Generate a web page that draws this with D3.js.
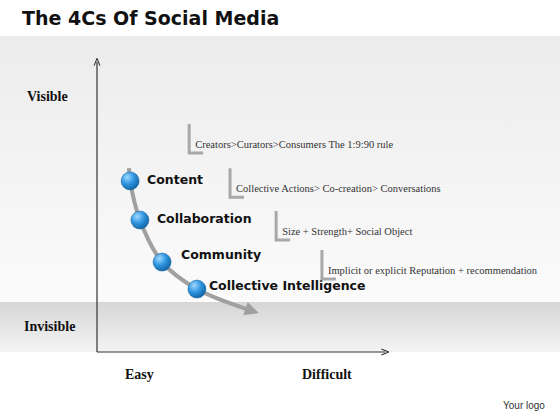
<!DOCTYPE html>
<html><head><meta charset="utf-8">
<script src="https://d3js.org/d3.v7.min.js"></script>
<style>body{margin:0}svg{display:block}</style>
</head><body>
<svg id="chart" width="560" height="420"></svg>
<script>
var stages = ["Content", "Collaboration", "Community", "Collective Intelligence"];
var stageX = [11.5, 14.9, 22.6, 34.7];
var stageY = [59, 45.5, 31, 21.7];
var notes = ["Creators>Curators>Consumers The 1:9:90 rule",
  "Collective Actions> Co-creation> Conversations",
  "Size + Strength+ Social Object",
  "Implicit or explicit Reputation + recommendation"];
var noteX = [32, 46.2, 62.2, 78.1];
var noteY = [78.6, 63.4, 48.6, 35.2];
var yLabels = ["Visible", "Invisible"];
var xLabels = ["Easy", "Difficult"];

var svg = d3.select("#chart");
var x = d3.scaleLinear().domain([0, 100]).range([97, 385]);
var y = d3.scaleLinear().domain([0, 100]).range([352, 62]);

var defs = svg.append("defs");
var g1 = defs.append("linearGradient").attr("id", "bg").attr("x1", 0).attr("y1", 0).attr("x2", 0).attr("y2", 1);
g1.append("stop").attr("offset", 0).attr("stop-color", "#ececec");
g1.append("stop").attr("offset", 1).attr("stop-color", "#fbfbfb");
var g2 = defs.append("linearGradient").attr("id", "band").attr("x1", 0).attr("y1", 0).attr("x2", 0).attr("y2", 1);
g2.append("stop").attr("offset", 0).attr("stop-color", "#d6d6d6");
g2.append("stop").attr("offset", 1).attr("stop-color", "#f4f4f4");
var rg = defs.append("radialGradient").attr("id", "ball").attr("cx", 0.35).attr("cy", 0.3).attr("r", 0.75);
rg.append("stop").attr("offset", 0).attr("stop-color", "#9fd8ff");
rg.append("stop").attr("offset", 0.5).attr("stop-color", "#2f95e0");
rg.append("stop").attr("offset", 1).attr("stop-color", "#11609f");
defs.append("marker").attr("id", "arr").attr("viewBox", "0 0 10 10").attr("refX", 1).attr("refY", 5)
  .attr("markerWidth", 4).attr("markerHeight", 3.5).attr("orient", "auto").attr("markerUnits", "strokeWidth")
  .append("path").attr("d", "M0,0L10,5L0,10z").attr("fill", "#a0a0a0");
defs.append("marker").attr("id", "ax").attr("viewBox", "0 0 10 10").attr("refX", 5).attr("refY", 5)
  .attr("markerWidth", 6).attr("markerHeight", 6).attr("orient", "auto")
  .append("path").attr("d", "M0,1L10,5L0,9").attr("fill", "none").attr("stroke", "#333").attr("stroke-width", 1.5);

svg.append("rect").attr("width", 560).attr("height", 420).attr("fill", "#fff");
svg.append("rect").attr("y", 36).attr("width", 560).attr("height", 266).attr("fill", "url(#bg)");
svg.append("rect").attr("y", 302).attr("width", 560).attr("height", 50).attr("fill", "url(#band)");

svg.append("text").attr("x", 22).attr("y", 25).text("The 4Cs Of Social Media")
  .attr("font-family", "DejaVu Sans").attr("font-weight", "bold").attr("font-size", 19).attr("fill", "#111");

// axes
svg.append("line").attr("x1", x(0)).attr("y1", y(0)).attr("x2", x(0)).attr("y2", y(100))
  .attr("stroke", "#333").attr("stroke-width", 1.2).attr("marker-end", "url(#ax)");
svg.append("line").attr("x1", x(0)).attr("y1", y(0)).attr("x2", x(100)).attr("y2", y(0))
  .attr("stroke", "#333").attr("stroke-width", 1.2).attr("marker-end", "url(#ax)");

var serif = "Liberation Serif";
svg.selectAll(".yl").data(yLabels).enter().append("text")
  .attr("x", (d, i) => i ? 24 : 27).attr("y", (d, i) => i ? 331 : 101).text(d => d)
  .attr("font-family", serif).attr("font-weight", "bold").attr("font-size", 14).attr("fill", "#111");
svg.selectAll(".xl").data(xLabels).enter().append("text")
  .attr("x", (d, i) => i ? 302 : 125).attr("y", 379).text(d => d)
  .attr("font-family", serif).attr("font-weight", "bold").attr("font-size", 14).attr("fill", "#111");

// curve
var pts = [[11.1, 63.4]].concat(stageX.map((d, i) => [d, stageY[i]])).concat([[52, 14.8]]);
var line = d3.line().x(d => x(d[0])).y(d => y(d[1])).curve(d3.curveCatmullRom);
svg.append("path").attr("d", line(pts)).attr("fill", "none").attr("stroke", "#a0a0a0")
  .attr("stroke-width", 4).attr("marker-end", "url(#arr)");

svg.selectAll(".ball").data(stages).enter().append("circle")
  .attr("cx", (d, i) => x(stageX[i])).attr("cy", (d, i) => y(stageY[i])).attr("r", 9)
  .attr("fill", "url(#ball)").attr("stroke", "#1a6aa8").attr("stroke-width", 0.6);
var dx = [17, 17, 19, 12], dy = [3, 3, -3, 1];
svg.selectAll(".st").data(stages).enter().append("text")
  .attr("x", (d, i) => x(stageX[i]) + dx[i]).attr("y", (d, i) => y(stageY[i]) + dy[i]).text(d => d)
  .attr("font-family", "DejaVu Sans").attr("font-weight", "bold").attr("font-size", 12.5).attr("fill", "#111");

// bracket notes
svg.selectAll(".br").data(notes).enter().append("path")
  .attr("d", (d, i) => {
    var bx = x(noteX[i]), by = y(noteY[i]);
    return "M" + bx + "," + by + "V" + (by + 29) + "H" + (bx + 14);
  }).attr("fill", "none").attr("stroke", "#a8a8a8").attr("stroke-width", 3);
svg.selectAll(".nt").data(notes).enter().append("text")
  .attr("x", (d, i) => x(noteX[i]) + 6).attr("y", (d, i) => y(noteY[i]) + 24).text(d => d)
  .attr("font-family", serif).attr("font-size", 10.5).attr("fill", "#333");

svg.append("text").attr("x", 503).attr("y", 409).text("Your logo")
  .attr("font-family", "Liberation Sans").attr("font-size", 10).attr("fill", "#333");
</script>
</body></html>
